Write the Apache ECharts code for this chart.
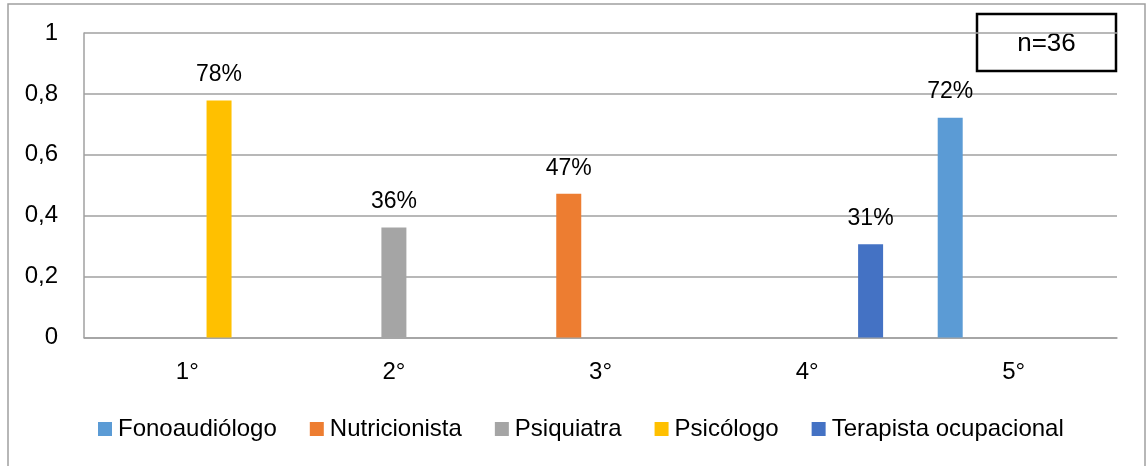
<!DOCTYPE html>
<html>
<head>
<meta charset="utf-8">
<script src="https://cdn.jsdelivr.net/npm/echarts@6/dist/echarts.min.js"></script>
<style>
html,body{margin:0;padding:0;background:#fff;}
#chart{width:1148px;height:466px;}
</style>
</head>
<body>
<div id="chart"></div>
<script>
const categories = ['1°', '2°', '3°', '4°', '5°'];
const seriesNames = ['Fonoaudiólogo', 'Nutricionista', 'Psiquiatra', 'Psicólogo', 'Terapista ocupacional'];
const fonoaudiologo = [0, 0, 0, 0, 0.722];
const nutricionista = [0, 0, 0.472, 0, 0];
const psiquiatra = [0, 0.361, 0, 0, 0];
const psicologo = [0.778, 0, 0, 0, 0];
const terapista = [0, 0, 0, 0.306, 0];
const yTickLabels = ['0', '0,2', '0,4', '0,6', '0,8', '1'];
const sampleNote = 'n=36';

const colors = ['#5B9BD5', '#ED7D31', '#A5A5A5', '#FFC000', '#4472C4'];
const seriesData = [fonoaudiologo, nutricionista, psiquiatra, psicologo, terapista];
const FONT = '"Liberation Sans", Arial, sans-serif';

const chart = echarts.init(document.getElementById('chart'));
chart.setOption({
  animation: false,
  color: colors,
  textStyle: { fontFamily: FONT, color: '#000' },
  grid: { left: 84, right: 31, top: 33, bottom: 128.5 },
  xAxis: {
    type: 'category',
    data: categories,
    axisTick: { show: false },
    axisLine: { lineStyle: { color: '#a0a0a0', width: 1.5 } },
    axisLabel: { fontSize: 24, color: '#000', margin: 23, fontFamily: FONT }
  },
  yAxis: {
    type: 'value',
    min: 0, max: 1, interval: 0.2,
    axisLine: { show: true, lineStyle: { color: '#a0a0a0', width: 1.5 } },
    axisTick: { show: false },
    splitLine: { lineStyle: { color: '#a0a0a0', width: 1.5 } },
    axisLabel: {
      fontSize: 24, color: '#000', margin: 26, fontFamily: FONT,
      formatter: v => yTickLabels[Math.round(v / 0.2)]
    }
  },
  legend: {
    left: 93, top: 412,
    icon: 'rect', itemWidth: 14, itemHeight: 14, itemGap: 33,
    textStyle: { fontSize: 24, color: '#000', fontFamily: FONT, padding: [0, 0, 0, 1] },
    data: seriesNames
  },
  series: seriesNames.map((name, i) => ({
    name: name,
    type: 'bar',
    data: seriesData[i],
    barWidth: 25,
    barGap: '27%',
    label: {
      show: true, position: 'top', distance: 14,
      fontSize: 23, color: '#000', fontFamily: FONT,
      formatter: p => p.value ? Math.round(p.value * 100) + '%' : ''
    }
  })),
  graphic: [
    {
      type: 'rect', z: 0, silent: true,
      shape: { x: 8, y: 4, width: 1137, height: 480 },
      style: { fill: 'none', stroke: '#a0a0a0', lineWidth: 1.5 }
    },
    {
      type: 'group', z: 100,
      children: [
        { type: 'rect', shape: { x: 977, y: 14, width: 139, height: 57 },
          style: { fill: '#fff', stroke: '#000', lineWidth: 2.5 } },
        { type: 'text', x: 1046.5, y: 44,
          style: { text: sampleNote, font: '26px ' + FONT, fill: '#000', align: 'center', verticalAlign: 'middle' } }
      ]
    }
  ]
});
</script>
</body>
</html>
